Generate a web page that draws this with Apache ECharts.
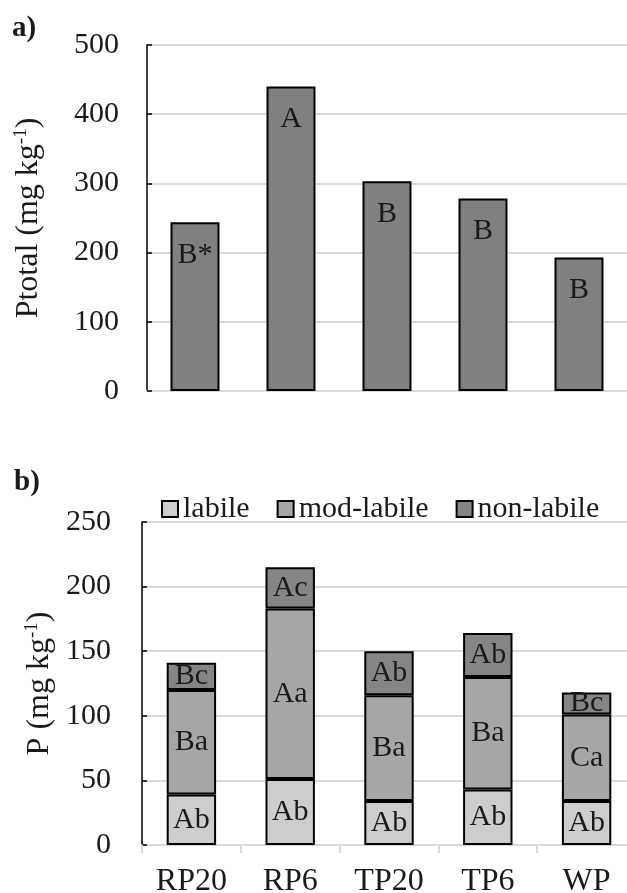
<!DOCTYPE html>
<html>
<head>
<meta charset="utf-8">
<script src="https://cdn.jsdelivr.net/npm/echarts@6/dist/echarts.min.js"></script>
<style>
html,body{margin:0;padding:0;background:#fff;}
#chart{width:627px;height:893px;}
</style>
</head>
<body>
<div id="chart"></div>
<script>
const categories = ['RP20', 'RP6', 'TP20', 'TP6', 'WP'];
const ptotal = [244, 440, 303, 278, 193];
const ptotalLetters = ['B*', 'A', 'B', 'B', 'B'];
const labile = [39, 51, 34, 43, 34];
const modLabile = [81, 132, 82, 87, 67];
const nonLabile = [21, 32, 34, 34, 17];
const labileLetters = ['Ab', 'Ab', 'Ab', 'Ab', 'Ab'];
const modLetters = ['Ba', 'Aa', 'Ba', 'Ba', 'Ca'];
const nonLetters = ['Bc', 'Ac', 'Ab', 'Ab', 'Bc'];
const seriesNames = ['labile', 'mod-labile', 'non-labile'];

const FONT = 'Liberation Serif';
const TXT = '#1a1a1a';
const GRID = '#d9d9d9';

const chart = echarts.init(document.getElementById('chart'), null, {renderer: 'canvas'});

function yAxisCommon(extra) {
  return Object.assign({
    type: 'value',
    min: 0,
    nameLocation: 'middle',
    nameRotate: 90,
    axisLine: {show: true, lineStyle: {color: '#000', width: 1.5}},
    axisTick: {show: true, inside: true, length: 5, lineStyle: {color: '#000', width: 1.5}},
    splitLine: {show: true, lineStyle: {color: GRID, width: 2}},
    nameTextStyle: {
      fontFamily: FONT, fontSize: 32, color: TXT,
      rich: {
        a: {fontFamily: FONT, fontSize: 32, color: TXT, lineHeight: 34},
        s: {fontFamily: FONT, fontSize: 19, color: TXT, verticalAlign: 'top', lineHeight: 34}
      }
    }
  }, extra);
}

function segLabel(letters) {
  return {
    show: true, position: 'inside', fontFamily: FONT, fontSize: 30, color: TXT,
    formatter: p => letters[p.dataIndex]
  };
}

const option = {
  animation: false,
  backgroundColor: '#fff',
  graphic: [
    {type: 'text', left: 12, top: 14, style: {text: 'a)', font: 'bold 29px "Liberation Serif"', fill: TXT}},
    {type: 'text', left: 14, top: 468, style: {text: 'b)', font: 'bold 29px "Liberation Serif"', fill: TXT}}
  ],
  legend: {
    data: seriesNames,
    left: 156, top: 489,
    icon: 'rect', itemWidth: 16, itemHeight: 16, itemGap: 27,
    textStyle: {fontFamily: FONT, fontSize: 30, color: TXT}
  },
  grid: [
    {left: 147, right: 0, top: 45, bottom: 502, outerBoundsMode: 'none', containLabel: false},
    {left: 142, right: -9, top: 522, bottom: 48, outerBoundsMode: 'none', containLabel: false}
  ],
  xAxis: [
    {
      type: 'category', gridIndex: 0, data: categories,
      axisLine: {show: true, lineStyle: {color: GRID, width: 2}},
      axisTick: {show: false}, axisLabel: {show: false}
    },
    {
      type: 'category', gridIndex: 1, data: categories,
      axisLine: {show: true, lineStyle: {color: GRID, width: 2}},
      axisTick: {show: true, length: 8, lineStyle: {color: GRID, width: 2}},
      axisLabel: {fontFamily: FONT, fontSize: 32, color: TXT, margin: 21}
    }
  ],
  yAxis: [
    yAxisCommon({gridIndex: 0, max: 500, interval: 100, nameGap: 101,
      name: '{a|Ptotal (mg kg}{s|-1}{a|)}', axisLabel: {fontFamily: FONT, fontSize: 30, color: TXT, margin: 28}}),
    yAxisCommon({gridIndex: 1, max: 250, interval: 50, nameGap: 85,
      name: '{a|P (mg kg}{s|-1}{a|)}', axisLabel: {fontFamily: FONT, fontSize: 30, color: TXT, margin: 31}})
  ],
  series: [
    {
      type: 'bar', name: 'Ptotal', xAxisIndex: 0, yAxisIndex: 0, data: ptotal,
      barCategoryGap: '49%',
      itemStyle: {color: '#808080', borderColor: '#000', borderWidth: 2},
      label: {show: true, position: 'insideTop', distance: 18, lineHeight: 30,
        fontFamily: FONT, fontSize: 30, color: TXT, formatter: p => ptotalLetters[p.dataIndex]}
    },
    {
      type: 'bar', name: seriesNames[0], xAxisIndex: 1, yAxisIndex: 1, stack: 'p', data: labile,
      barCategoryGap: '50%',
      itemStyle: {color: '#cdcdcd', borderColor: '#000', borderWidth: 2},
      label: segLabel(labileLetters)
    },
    {
      type: 'bar', name: seriesNames[1], xAxisIndex: 1, yAxisIndex: 1, stack: 'p', data: modLabile,
      barCategoryGap: '50%',
      itemStyle: {color: '#a6a6a6', borderColor: '#000', borderWidth: 2},
      label: segLabel(modLetters)
    },
    {
      type: 'bar', name: seriesNames[2], xAxisIndex: 1, yAxisIndex: 1, stack: 'p', data: nonLabile,
      barCategoryGap: '50%',
      itemStyle: {color: '#858585', borderColor: '#000', borderWidth: 2},
      label: segLabel(nonLetters)
    }
  ]
};
chart.setOption(option);
</script>
</body>
</html>
